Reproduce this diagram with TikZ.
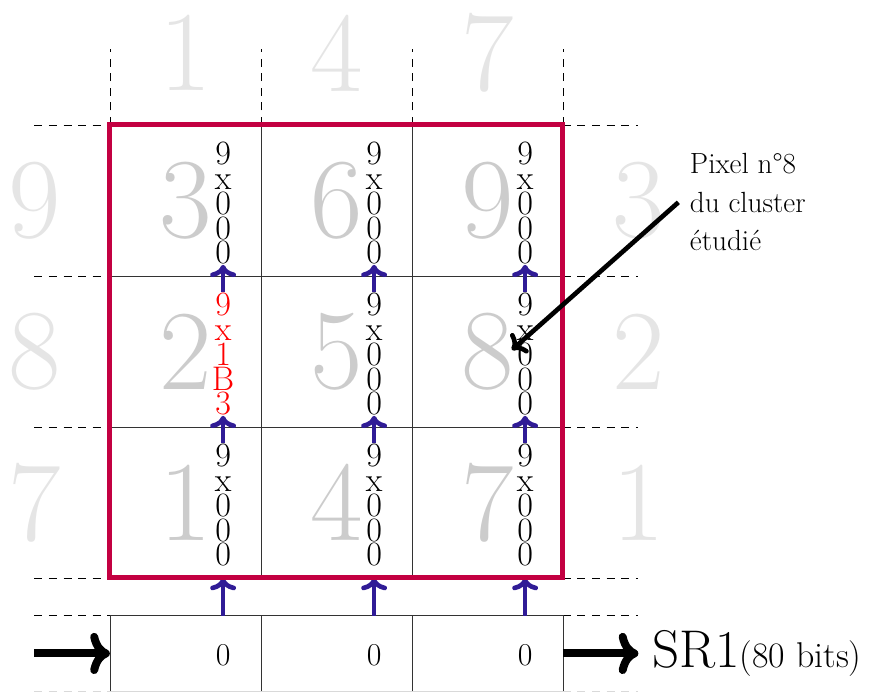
\documentclass[tikz,border=0pt]{standalone}
\usepackage{xcolor}
\usepackage{tikz}
\usetikzlibrary{positioning, arrows.meta}

\definecolor{boxred}{RGB}{195,0,65}
\definecolor{arrowblue}{RGB}{48,28,150}

\tikzset{
    bigdigit/.style={text=black!20, inner sep=0pt, font=\fontsize{86}{86}\selectfont},
    outdigit/.style={text=black!10, inner sep=0pt, font=\fontsize{86}{86}\selectfont},
    hexstack/.style={inner sep=0pt, align=center, font=\fontsize{25.7}{18.8}\selectfont},
    srbit/.style={inner sep=0pt, font=\fontsize{24}{24}\selectfont},
    shiftarrow/.style={->, arrowblue, line width=3.5pt},
    iobarrow/.style={->, line width=6pt},
    gridline/.style={black!80, line width=0.5pt},
    ext/.style={dash pattern=on 6pt off 5pt, line width=0.5pt}
}

\begin{document}
\begin{tikzpicture}
    \useasboundingbox (-2.91,-3.02) rectangle (20.11,15.31);

    % Dashed extensions
    \foreach \y in {12,8,4,0,-1} {
        \draw[ext] (-2,\y) -- (0,\y);
        \draw[ext] (12,\y) -- (14,\y);
    }
    \draw[ext, black!15] (-2,-3) -- (0,-3);
    \draw[ext, black!15] (12,-3) -- (14,-3);
    \foreach \x in {0,4,8,12}
        \draw[ext] (\x,12) -- (\x,14);

    % Neighbour pixels
    \node[outdigit] (n1) at (2,13.9) {1};
    \node[outdigit] (n4) at (6,13.9) {4};
    \node[outdigit] (n7) at (10,13.9) {7};
    \node[outdigit] (w9) at (-2,10) {9};
    \node[outdigit] (w8) at (-2,6) {8};
    \node[outdigit] (w7) at (-2,2) {7};
    \node[outdigit] (e3) at (14,10) {3};
    \node[outdigit] (e2) at (14,6) {2};
    \node[outdigit] (e1) at (14,2) {1};

    % Cluster pixels
    \node[bigdigit] (c3) at (2,10) {3};
    \node[bigdigit] (c6) at (6,10) {6};
    \node[bigdigit] (c9) at (10,10) {9};
    \node[bigdigit] (c2) at (2,6) {2};
    \node[bigdigit] (c5) at (6,6) {5};
    \node[bigdigit] (c8) at (10,6) {8};
    \node[bigdigit] (c1) at (2,2) {1};
    \node[bigdigit] (c4) at (6,2) {4};
    \node[bigdigit] (c7) at (10,2) {7};

    % Grid
    \draw[gridline] (0,0) grid[step=4] (12,12);

    % Register contents
    \node[hexstack] (h3) at (3,9.93) {9\\x\\0\\0\\0};
    \node[hexstack] (h6) at (7,9.93) {9\\x\\0\\0\\0};
    \node[hexstack] (h9) at (11,9.93) {9\\x\\0\\0\\0};
    \node[hexstack, text=red] (h2) at (3,5.93) {9\\x\\1\\B\\3};
    \node[hexstack] (h5) at (7,5.93) {9\\x\\0\\0\\0};
    \node[hexstack] (h8) at (11,5.93) {9\\x\\0\\0\\0};
    \node[hexstack] (h1) at (3,1.93) {9\\x\\0\\0\\0};
    \node[hexstack] (h4) at (7,1.93) {9\\x\\0\\0\\0};
    \node[hexstack] (h7) at (11,1.93) {9\\x\\0\\0\\0};

    % Shift register SR1
    \draw[gridline] (0,-3) -- (0,-1) -- (12,-1) -- (12,-3);
    \draw[black!15] (0,-3) -- (12,-3);
    \draw[gridline] (4,-3) -- (4,-1);
    \draw[gridline] (8,-3) -- (8,-1);
    \coordinate (s1) at (3,-1);
    \coordinate (s2) at (7,-1);
    \coordinate (s3) at (11,-1);
    \node[srbit] (z1) at (3,-2.04) {0};
    \node[srbit] (z2) at (7,-2.04) {0};
    \node[srbit] (z3) at (11,-2.04) {0};

    % Shifts
    \foreach \a/\b in {h1/h2, h2/h3, h4/h5, h5/h6, h7/h8, h8/h9}
        \draw[shiftarrow] (\a.north) -- (\b.south);
    \draw[shiftarrow] (s1) -- (3,0);
    \draw[shiftarrow] (s2) -- (7,0);
    \draw[shiftarrow] (s3) -- (11,0);

    % Cluster
    \draw[boxred, line width=3.8pt] (0,0) rectangle (12,12);

    % Input / output
    \coordinate (in) at (-2,-2);
    \coordinate (out) at (14,-2);
    \draw[iobarrow] (in) -- (0,-2);
    \draw[iobarrow] (12,-2) -- (out);
    \node[anchor=base west, inner sep=0pt, font=\fontsize{40}{40}\selectfont] (sr) at (14.36,-2.38)
        {SR1{\fontsize{27}{27}\selectfont(80 bits)}};

    % Studied pixel
    \coordinate (pix8) at (10.65,6.04);
    \node[anchor=west, inner sep=0.3cm, align=left, font=\fontsize{22}{29}\selectfont] (note) at (15.06,9.95)
        {Pixel n°8\\du cluster\\étudié};
    \draw[->, line width=3.5pt] (note.west) -- (pix8);
\end{tikzpicture}
\end{document}
